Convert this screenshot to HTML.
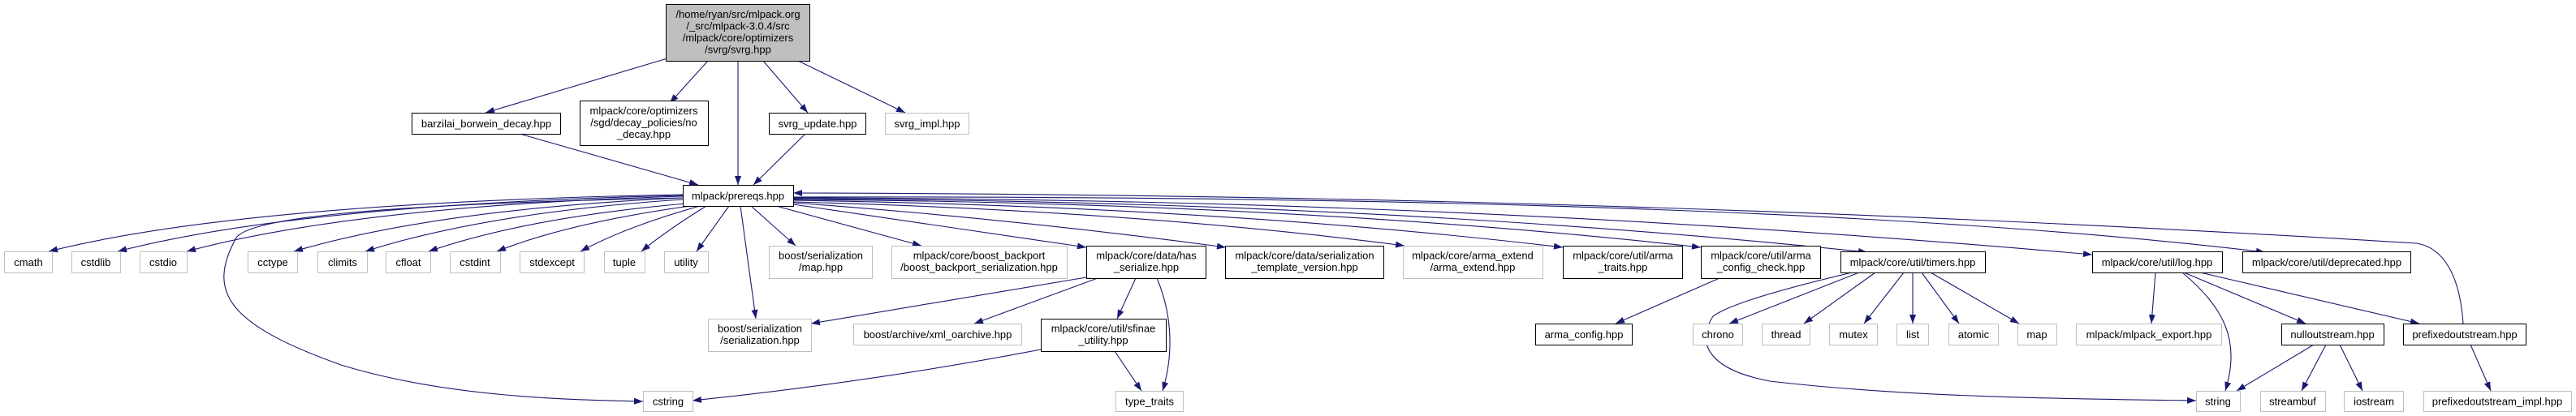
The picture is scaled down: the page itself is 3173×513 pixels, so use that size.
<!DOCTYPE html>
<html><head><meta charset="utf-8"><style>
html,body{margin:0;padding:0;background:#fff;width:3173px;height:513px;overflow:hidden}
svg{display:block}
text{font-family:"Liberation Sans",Arial,sans-serif;font-size:13px;fill:#000;text-anchor:middle}
.n{fill:#fff;stroke:#000;stroke-width:1}
.g{fill:#fff;stroke:#bfbfbf;stroke-width:1}
.e{fill:none;stroke:#191970;stroke-width:1.1}
</style></head><body>
<svg width="3173" height="513" viewBox="0 0 3173 513" xmlns="http://www.w3.org/2000/svg">
<defs><marker id="a" markerWidth="11" markerHeight="8" refX="11" refY="4" orient="auto" markerUnits="userSpaceOnUse"><path d="M0,0 L11,4 L0,8 z" fill="#191970"/></marker></defs>
<g class="e" marker-end="url(#a)">
<path d="M822,72 L598,139"/>
<path d="M872,75 L825,127"/>
<path d="M909,75 L909,228"/>
<path d="M940,75 L995,139"/>
<path d="M983,75 L1115,139"/>
<path d="M640,165 L860,228"/>
<path d="M992,165 L928,228"/>
<path d="M841,240 Q300,250 60,310"/>
<path d="M841,241 Q370,252 145,310"/>
<path d="M841,242 Q440,254 230,310"/>
<path d="M841,244 Q540,258 362,310"/>
<path d="M841,246 Q600,262 450,310"/>
<path d="M845,251 Q650,268 528,310"/>
<path d="M850,254 Q700,275 612,310"/>
<path d="M862,254 Q770,280 715,310"/>
<path d="M870,254 Q820,285 790,310"/>
<path d="M898,254 L858,310"/>
<path d="M841,244 C450,252 300,270 290,295 C255,360 280,400 420,450 C550,490 700,493 792,495"/>
<path d="M912,254 L931,393"/>
<path d="M925,254 L980,303"/>
<path d="M956,254 L1135,303"/>
<path d="M977,252 L1338,305"/>
<path d="M977,250 Q1250,270 1510,305"/>
<path d="M977,249 Q1400,260 1730,303"/>
<path d="M977,247 Q1500,255 1925,305"/>
<path d="M977,246 Q1600,250 2095,305"/>
<path d="M977,245 Q1700,248 2300,311"/>
<path d="M977,244 Q1800,245 2577,314"/>
<path d="M977,243 Q2200,240 2790,311"/>
<path d="M3034,399 C3030,340 3010,305 2976,300 Q2000,240 977,238"/>
<path d="M1338,342 L999,399"/>
<path d="M1352,343 L1200,399"/>
<path d="M1399,343 L1376,393"/>
<path d="M1425,343 C1445,390 1445,440 1432,482"/>
<path d="M1282,431 Q1080,470 853,494"/>
<path d="M1373,433 L1406,482"/>
<path d="M2118,343 L1990,399"/>
<path d="M2290,336 L2130,399"/>
<path d="M2310,336 L2222,399"/>
<path d="M2345,336 L2296,399"/>
<path d="M2356,336 L2356,399"/>
<path d="M2367,336 L2413,399"/>
<path d="M2378,336 L2487,399"/>
<path d="M2290,334 C2200,355 2130,375 2110,390 C2090,420 2100,455 2180,470 C2350,490 2550,492 2705,494"/>
<path d="M2655,336 L2650,399"/>
<path d="M2688,336 C2740,380 2760,420 2741,482"/>
<path d="M2690,336 L2840,399"/>
<path d="M2710,336 L2980,399"/>
<path d="M2850,425 L2755,482"/>
<path d="M2865,425 L2835,482"/>
<path d="M2882,425 L2910,482"/>
<path d="M3043,425 L3068,482"/>
</g>
<rect x="820.5" y="5.5" width="177" height="70" fill="#bfbfbf" stroke="#000"/>
<text x="909" y="22">/home/ryan/src/mlpack.org</text><text x="909" y="36.5">/_src/mlpack-3.0.4/src</text><text x="909" y="51">/mlpack/core/optimizers</text><text x="909" y="65.5">/svrg/svrg.hpp</text>
<rect class="n" x="507.5" y="139.5" width="183" height="26"/><text x="599" y="157">barzilai_borwein_decay.hpp</text>
<rect class="n" x="714.5" y="124.5" width="158" height="55"/><text x="793" y="141">mlpack/core/optimizers</text><text x="793" y="155.5">/sgd/decay_policies/no</text><text x="793" y="170">_decay.hpp</text>
<rect class="n" x="947.5" y="139.5" width="119" height="26"/><text x="1007" y="157">svrg_update.hpp</text>
<rect class="g" x="1090.5" y="139.5" width="103" height="26"/><text x="1142" y="157">svrg_impl.hpp</text>
<rect class="n" x="841.5" y="228.5" width="136" height="26"/><text x="909" y="246">mlpack/prereqs.hpp</text>
<rect class="g" x="5.5" y="310.5" width="59" height="26"/><text x="35" y="328">cmath</text>
<rect class="g" x="88.5" y="310.5" width="60" height="26"/><text x="118" y="328">cstdlib</text>
<rect class="g" x="172.5" y="310.5" width="58" height="26"/><text x="201" y="328">cstdio</text>
<rect class="g" x="305.5" y="310.5" width="61" height="26"/><text x="336" y="328">cctype</text>
<rect class="g" x="391.5" y="310.5" width="61" height="26"/><text x="422" y="328">climits</text>
<rect class="g" x="475.5" y="310.5" width="55" height="26"/><text x="503" y="328">cfloat</text>
<rect class="g" x="554.5" y="310.5" width="62" height="26"/><text x="585" y="328">cstdint</text>
<rect class="g" x="640.5" y="310.5" width="79" height="26"/><text x="680" y="328">stdexcept</text>
<rect class="g" x="744.5" y="310.5" width="50" height="26"/><text x="769" y="328">tuple</text>
<rect class="g" x="818.5" y="310.5" width="54" height="26"/><text x="845" y="328">utility</text>
<rect class="g" x="947.5" y="303.5" width="127" height="40"/><text x="1011" y="319.5">boost/serialization</text><text x="1011" y="334">/map.hpp</text>
<rect class="g" x="1098.5" y="303.5" width="216" height="40"/><text x="1206" y="319.5">mlpack/core/boost_backport</text><text x="1206" y="334">/boost_backport_serialization.hpp</text>
<rect class="n" x="1338.5" y="303.5" width="147" height="40"/><text x="1412" y="319.5">mlpack/core/data/has</text><text x="1412" y="334">_serialize.hpp</text>
<rect class="n" x="1509.5" y="303.5" width="195" height="40"/><text x="1607" y="319.5">mlpack/core/data/serialization</text><text x="1607" y="334">_template_version.hpp</text>
<rect class="g" x="1728.5" y="303.5" width="172" height="40"/><text x="1814" y="319.5">mlpack/core/arma_extend</text><text x="1814" y="334">/arma_extend.hpp</text>
<rect class="n" x="1925.5" y="303.5" width="147" height="40"/><text x="1999" y="319.5">mlpack/core/util/arma</text><text x="1999" y="334">_traits.hpp</text>
<rect class="n" x="2095.5" y="303.5" width="147" height="40"/><text x="2169" y="319.5">mlpack/core/util/arma</text><text x="2169" y="334">_config_check.hpp</text>
<rect class="n" x="2267.5" y="310.5" width="178" height="26"/><text x="2356" y="328">mlpack/core/util/timers.hpp</text>
<rect class="n" x="2577.5" y="310.5" width="160" height="26"/><text x="2657" y="328">mlpack/core/util/log.hpp</text>
<rect class="n" x="2762.5" y="310.5" width="207" height="26"/><text x="2866" y="328">mlpack/core/util/deprecated.hpp</text>
<rect class="g" x="872.5" y="393.5" width="127" height="40"/><text x="936" y="409.5">boost/serialization</text><text x="936" y="424">/serialization.hpp</text>
<rect class="g" x="1051.5" y="399.5" width="207" height="26"/><text x="1155" y="417">boost/archive/xml_oarchive.hpp</text>
<rect class="n" x="1282.5" y="393.5" width="154" height="40"/><text x="1359" y="409.5">mlpack/core/util/sfinae</text><text x="1359" y="424">_utility.hpp</text>
<rect class="n" x="1891.5" y="399.5" width="119" height="26"/><text x="1951" y="417">arma_config.hpp</text>
<rect class="g" x="2085.5" y="399.5" width="61" height="26"/><text x="2116" y="417">chrono</text>
<rect class="g" x="2170.5" y="399.5" width="59" height="26"/><text x="2200" y="417">thread</text>
<rect class="g" x="2253.5" y="399.5" width="59" height="26"/><text x="2283" y="417">mutex</text>
<rect class="g" x="2336.5" y="399.5" width="39" height="26"/><text x="2356" y="417">list</text>
<rect class="g" x="2400.5" y="399.5" width="61" height="26"/><text x="2431" y="417">atomic</text>
<rect class="g" x="2485.5" y="399.5" width="48" height="26"/><text x="2509" y="417">map</text>
<rect class="g" x="2557.5" y="399.5" width="179" height="26"/><text x="2647" y="417">mlpack/mlpack_export.hpp</text>
<rect class="n" x="2810.5" y="399.5" width="126" height="26"/><text x="2873" y="417">nulloutstream.hpp</text>
<rect class="n" x="2960.5" y="399.5" width="151" height="26"/><text x="3036" y="417">prefixedoutstream.hpp</text>
<rect class="g" x="792.5" y="482.5" width="61" height="25"/><text x="823" y="499.5">cstring</text>
<rect class="g" x="1374.5" y="482.5" width="83" height="25"/><text x="1416" y="499.5">type_traits</text>
<rect class="g" x="2705.5" y="482.5" width="54" height="25"/><text x="2732" y="499.5">string</text>
<rect class="g" x="2784.5" y="482.5" width="80" height="25"/><text x="2824" y="499.5">streambuf</text>
<rect class="g" x="2887.5" y="482.5" width="73" height="25"/><text x="2924" y="499.5">iostream</text>
<rect class="g" x="2985.5" y="482.5" width="182" height="25"/><text x="3076" y="499.5">prefixedoutstream_impl.hpp</text>
</svg>
</body></html>
